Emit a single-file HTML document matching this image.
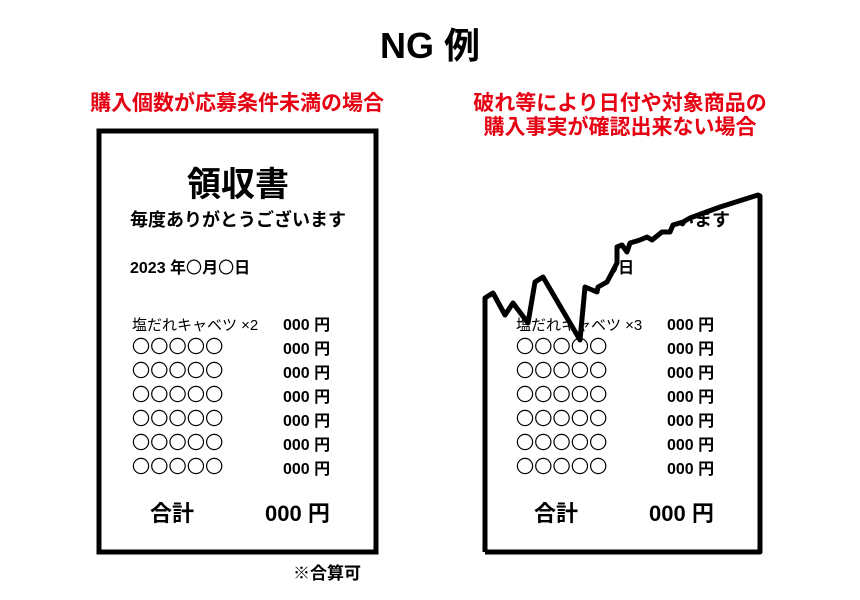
<!DOCTYPE html>
<html><head><meta charset="utf-8"><style>
html,body{margin:0;padding:0;background:#fff;}
svg{display:block;font-family:"Liberation Sans","Noto Sans CJK JP",sans-serif;}
.b{font-weight:bold;}
.j{font-family:"Noto Sans CJK JP",sans-serif;}
</style></head><body>
<svg width="860" height="600" viewBox="0 0 860 600">
<defs>
<g id="cr" fill="none" stroke="#000" stroke-width="1.2">
<circle cx="141" cy="0" r="7.6"/><circle cx="159.3" cy="0" r="7.6"/><circle cx="177.6" cy="0" r="7.6"/><circle cx="195.9" cy="0" r="7.6"/><circle cx="214.2" cy="0" r="7.6"/>
</g>
</defs>
<rect width="860" height="600" fill="#fff"/>
<text x="430" y="58" text-anchor="middle" font-size="36" class="b">NG 例</text>
<text x="237" y="110" text-anchor="middle" font-size="21" class="b" fill="#e60012">購入個数が応募条件未満の場合</text>
<text x="620" y="110" text-anchor="middle" font-size="21" class="b" fill="#e60012">破れ等により日付や対象商品の</text>
<text x="620" y="134" text-anchor="middle" font-size="21" class="b" fill="#e60012">購入事実が確認出来ない場合</text>

<g>
<rect x="99" y="131" width="277" height="421" fill="none" stroke="#000" stroke-width="5"/>
<text x="238" y="196" text-anchor="middle" font-size="34" class="b">領収書</text>
<text x="130" y="226" font-size="18" class="b">毎度ありがとうございます</text>
<text x="130" y="273" font-size="16" class="b">2023 年<tspan class="j" font-weight="normal">〇</tspan>月<tspan class="j" font-weight="normal">〇</tspan>日</text>
<text x="132" y="330" font-size="15">塩だれキャベツ ×2</text>
<g>
<use href="#cr" y="346"/><use href="#cr" y="370"/><use href="#cr" y="394"/><use href="#cr" y="418"/><use href="#cr" y="442"/><use href="#cr" y="466"/>
</g>
<g font-size="16" class="b">
<text x="283" y="330">000 円</text><text x="283" y="354">000 円</text><text x="283" y="378">000 円</text><text x="283" y="402">000 円</text>
<text x="283" y="426">000 円</text><text x="283" y="450">000 円</text><text x="283" y="474">000 円</text>
</g>
<text x="150" y="521" font-size="22" class="b">合計</text>
<text x="265" y="521" font-size="22" class="b">000 円</text>
</g>
<text x="293" y="579" font-size="17" class="b">※合算可</text>

<g>
<g transform="translate(384,0)">
<text x="130" y="226" font-size="18" class="b">毎度ありがとうございます</text>
<text x="130" y="273" font-size="16" class="b">2023 年<tspan class="j" font-weight="normal">〇</tspan>月<tspan class="j" font-weight="normal">〇</tspan>日</text>
<text x="132" y="330" font-size="15">塩だれキャベツ ×3</text>
<use href="#cr" y="346"/><use href="#cr" y="370"/><use href="#cr" y="394"/><use href="#cr" y="418"/><use href="#cr" y="442"/><use href="#cr" y="466"/>
<g font-size="16" class="b">
<text x="283" y="330">000 円</text><text x="283" y="354">000 円</text><text x="283" y="378">000 円</text><text x="283" y="402">000 円</text>
<text x="283" y="426">000 円</text><text x="283" y="450">000 円</text><text x="283" y="474">000 円</text>
</g>
<text x="150" y="521" font-size="22" class="b">合計</text>
<text x="265" y="521" font-size="22" class="b">000 円</text>
</g>
<polygon fill="#fff" points="470,140 780,140 780,195 758,195 720,207 690,218 683,222 673,225 670,232 662,232 652,240 647,237 640,240 630,243 627,252 622,245 617,247 617,263 607,282 598,287 597,292 585,287 580,340 543,277 535,282 528,323 513,303 505,315 493,293 485,298 470,300"/>
<polyline fill="none" stroke="#000" stroke-width="5" stroke-linejoin="round" points="485,552 485,298 493,293 505,315 513,303 528,323 535,282 543,277 580,340 585,287 597,292 598,287 607,282 617,263 617,247 622,245 627,252 630,243 640,240 647,237 652,240 662,232 670,232 673,225 683,222 690,218 720,207 758,195 760,196 760,552 485,552"/>
</g>
</svg>
</body></html>
